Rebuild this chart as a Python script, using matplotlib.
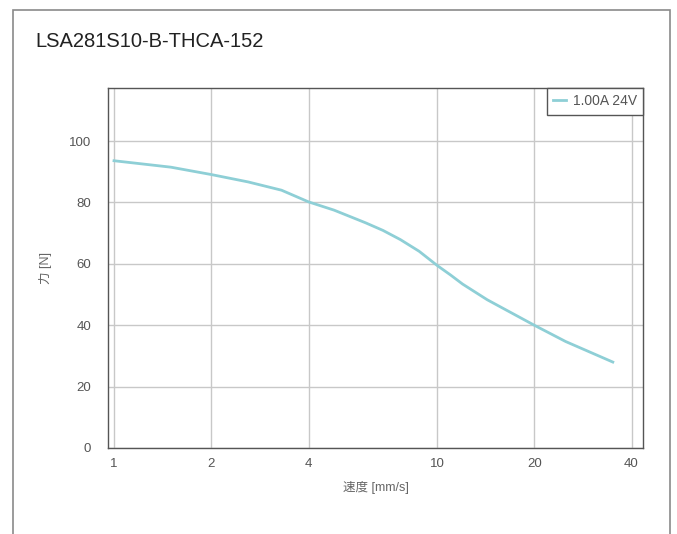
import matplotlib.pyplot as plt
from matplotlib.patches import Rectangle

# speed [mm/s] vs force [N]
speed = [1, 1.5, 2, 2.6, 3.3, 4, 4.8, 6, 6.8, 7.7, 8.8, 10, 11, 12, 14.3, 20, 25, 35]
force = [93.6, 91.5, 89.1, 86.7, 84.0, 80.2, 77.5, 73.4, 70.9, 67.9, 64.1, 59.5, 56.4, 53.4, 48.3, 40.0, 34.7, 28.0]
series_label = '1.00A 24V'
title = 'LSA281S10-B-THCA-152'
xticks = [1, 2, 4, 10, 20, 40]
yticks = [0, 20, 40, 60, 80, 100]

plt.rcParams['font.family'] = ['Liberation Sans', 'Noto Sans CJK JP', 'DejaVu Sans']

fig = plt.figure(figsize=(6.77, 5.34), dpi=100)
fig.patches.append(Rectangle((13 / 677, -0.1), (670 - 13) / 677, 1.1 - 10 / 534,
                             transform=fig.transFigure, fill=False,
                             edgecolor='#8a8a8a', linewidth=1.2, clip_on=False))
fig.text(35 / 677, 1 - 47 / 534, title, fontsize=14.5, color='#222222', va='baseline')

ax = fig.add_axes([108 / 677, 86 / 534, (643 - 108) / 677, (448 - 88) / 534])
ax.plot(speed, force, color='#8ecfd6', linewidth=2, label=series_label)

ax.set_xscale('log')
ax.set_xlim(0.958, 43.4)
ax.set_ylim(0, 117.3)
ax.set_xticks(xticks)
ax.set_xticklabels([str(t) for t in xticks])
ax.xaxis.set_minor_locator(plt.NullLocator())
ax.set_yticks(yticks)
ax.tick_params(length=0, labelsize=9.5, labelcolor='#555555')
ax.tick_params(axis='y', pad=12)
ax.tick_params(axis='x', pad=7)
ax.grid(True, color='#c8c8c8', linewidth=1)
ax.set_axisbelow(True)
for s in ax.spines.values():
    s.set_color('#555555')
    s.set_linewidth(1)

ax.set_xlabel('速度 [mm/s]', fontsize=9, color='#666666', labelpad=8)
ax.set_ylabel('力 [N]', fontsize=9, color='#666666', labelpad=12)

leg = ax.legend(loc='upper right', borderaxespad=0, fontsize=10, handlelength=0.9,
                handletextpad=0.5, fancybox=False, framealpha=1, borderpad=0.45)
leg.get_frame().set_edgecolor('#555555')
leg.get_frame().set_linewidth(1)
for t in leg.get_texts():
    t.set_color('#555555')

fig.savefig('out.png', dpi=100)
